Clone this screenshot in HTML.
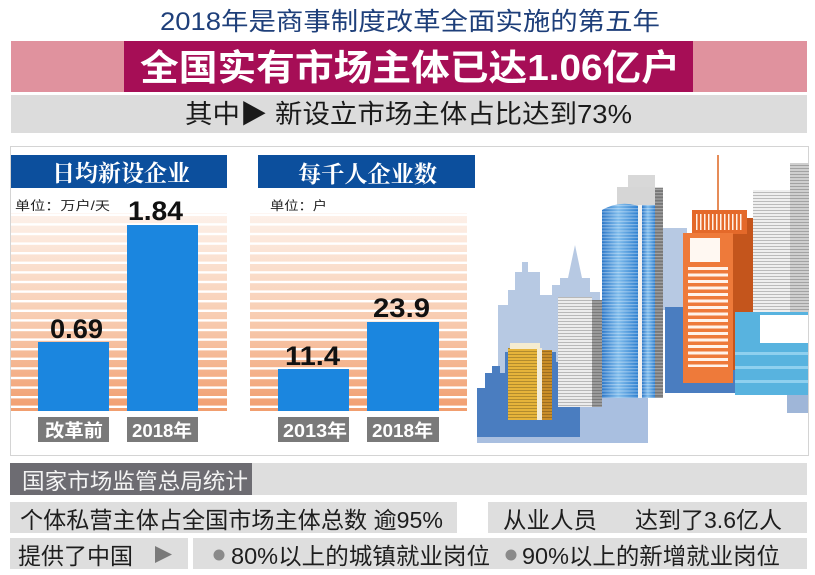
<!DOCTYPE html>
<html><head><meta charset="utf-8">
<style>
html,body{margin:0;padding:0;background:#fff;}
svg{display:block;}
text{font-family:"Liberation Sans","Noto Sans CJK SC",sans-serif;}
.cj{font-family:"Liberation Sans","Noto Sans CJK SC",sans-serif;}
.sf{font-family:"Liberation Serif","Noto Serif CJK SC",serif;font-weight:bold;}
</style></head><body>
<svg width="815" height="575" viewBox="0 0 815 575" xmlns="http://www.w3.org/2000/svg">
<defs>
<linearGradient id="og" x1="0" y1="0" x2="0" y2="1">
 <stop offset="0" stop-color="#fdf1ea"/>
 <stop offset="0.5" stop-color="#f8cfb5"/>
 <stop offset="1" stop-color="#f19e6f"/>
</linearGradient>
<pattern id="wl" patternUnits="userSpaceOnUse" x="0" y="216" width="10" height="9.6">
 <rect x="0" y="7.2" width="10" height="2.4" fill="#fff"/>
</pattern>
<linearGradient id="cyl" x1="0" y1="0" x2="1" y2="0">
 <stop offset="0" stop-color="#2d78c8"/>
 <stop offset="0.45" stop-color="#7fbcec"/>
 <stop offset="1" stop-color="#2f80d0"/>
</linearGradient>
<pattern id="hs" patternUnits="userSpaceOnUse" width="10" height="3.2">
 <rect x="0" y="0" width="10" height="1.2" fill="rgba(255,255,255,0.35)"/>
</pattern>
<pattern id="ds" patternUnits="userSpaceOnUse" width="10" height="3">
 <rect x="0" y="0" width="10" height="1" fill="rgba(0,0,0,0.22)"/>
</pattern>
<pattern id="ws" patternUnits="userSpaceOnUse" x="0" y="267" width="10" height="6.5">
 <rect x="0" y="0" width="10" height="3" fill="#fff3ea"/>
</pattern>
<pattern id="vs" patternUnits="userSpaceOnUse" width="4" height="10">
 <rect x="0" y="0" width="1.5" height="10" fill="#fff0e4"/>
</pattern>
</defs>

<!-- Title -->
<text x="160" y="30" font-size="25" fill="#1e3f7a" textLength="500" lengthAdjust="spacingAndGlyphs">2018年是商事制度改革全面实施的第五年</text>

<!-- Pink band -->
<rect x="11" y="41" width="796" height="51" fill="#e0929e"/>
<rect x="124" y="41" width="569" height="51" fill="#a60e56"/>
<text x="140" y="80" font-size="36" font-weight="bold" fill="#fff" textLength="540" lengthAdjust="spacingAndGlyphs">全国实有市场主体已达1.06亿户</text>

<!-- Gray band -->
<rect x="11" y="95" width="796" height="38" fill="#dcdcdc"/>
<text x="185" y="123" font-size="26" fill="#1a1a1a" textLength="447" lengthAdjust="spacingAndGlyphs">其中▶ 新设立市场主体占比达到73%</text>

<!-- Panel -->
<rect x="10.5" y="146.5" width="798" height="309" fill="#fff" stroke="#d4d4d4"/>

<!-- Left chart -->
<rect x="11" y="155" width="216" height="33" fill="#0c4f9d"/>
<text class="sf" x="52" y="181" font-size="23" fill="#fff" textLength="138" lengthAdjust="spacingAndGlyphs">日均新设企业</text>
<text x="15" y="210" font-size="12.5" fill="#222" textLength="95" lengthAdjust="spacingAndGlyphs">单位：万户/天</text>
<rect x="11" y="213" width="216" height="198" fill="url(#og)"/>
<rect x="11" y="213" width="216" height="198" fill="url(#wl)"/>
<rect x="38" y="342" width="71" height="69" fill="#1b86df"/>
<rect x="127" y="225" width="71" height="186" fill="#1b86df"/>
<text x="50" y="338" font-size="27" font-weight="bold" fill="#111" textLength="53" lengthAdjust="spacingAndGlyphs">0.69</text>
<text x="128" y="220" font-size="27" font-weight="bold" fill="#111" textLength="55" lengthAdjust="spacingAndGlyphs">1.84</text>
<rect x="38" y="417" width="71" height="25" fill="#7a7a7a"/>
<rect x="127" y="417" width="71" height="25" fill="#7a7a7a"/>
<text x="45" y="437" font-size="18" font-weight="bold" fill="#fff" textLength="58" lengthAdjust="spacingAndGlyphs">改革前</text>
<text x="132" y="437" font-size="18" font-weight="bold" fill="#fff" textLength="60" lengthAdjust="spacingAndGlyphs">2018年</text>

<!-- Right chart -->
<rect x="258" y="155" width="217" height="33" fill="#0c4f9d"/>
<text class="sf" x="298" y="182" font-size="23" fill="#fff" textLength="139" lengthAdjust="spacingAndGlyphs">每千人企业数</text>
<text x="270" y="210" font-size="12.5" fill="#222" textLength="57" lengthAdjust="spacingAndGlyphs">单位：户</text>
<rect x="250" y="213" width="217" height="198" fill="url(#og)"/>
<rect x="250" y="213" width="217" height="198" fill="url(#wl)"/>
<rect x="278" y="369" width="71" height="42" fill="#1b86df"/>
<rect x="367" y="322" width="72" height="89" fill="#1b86df"/>
<text x="285" y="365" font-size="27" font-weight="bold" fill="#111" textLength="55" lengthAdjust="spacingAndGlyphs">11.4</text>
<text x="373" y="317" font-size="27" font-weight="bold" fill="#111" textLength="57" lengthAdjust="spacingAndGlyphs">23.9</text>
<rect x="278" y="417" width="71" height="25" fill="#7a7a7a"/>
<rect x="367" y="417" width="72" height="25" fill="#7a7a7a"/>
<text x="283" y="437" font-size="18" font-weight="bold" fill="#fff" textLength="64" lengthAdjust="spacingAndGlyphs">2013年</text>
<text x="372" y="437" font-size="18" font-weight="bold" fill="#fff" textLength="61" lengthAdjust="spacingAndGlyphs">2018年</text>

<!-- City illustration -->
<g>
 <!-- light background skyline -->
 <path fill="#b7c9e3" d="M498 385 V305 H508 V290 H515 V272 H522 V262 H528 V272 H540 V295 H552 V285 H560 V278 H568 L575 245 L582 278 H590 V292 H600 V300 H606 V385 Z"/>
 <rect x="663" y="228" width="24" height="82" fill="#b7c9e3"/>
 <!-- dark blue base left -->
 <path fill="#4a7dc0" d="M477 437 V388 H485 V373 H492 V366 H500 V373 H505 V352 H556 V362 H580 V437 Z"/>
 <rect x="477" y="437" width="171" height="6" fill="#a9bfe0"/>
 <rect x="580" y="398" width="68" height="44" fill="#a9bfe0"/>
 <!-- dark blue behind orange -->
 <rect x="665" y="307" width="70" height="86" fill="#4a7dc0"/>
 <!-- yellow building -->
 <rect x="508" y="348" width="32" height="72" fill="#e6b43a"/>
 <rect x="508" y="348" width="32" height="72" fill="url(#ds)"/>
 <rect x="537" y="348" width="5" height="72" fill="#f3ecd8"/>
 <rect x="542" y="350" width="10" height="70" fill="#c98d28"/>
 <rect x="542" y="350" width="10" height="70" fill="url(#ds)"/>
 <rect x="510" y="343" width="30" height="6" fill="#f5ecd0"/>
 <!-- white striped building -->
 <rect x="558" y="297" width="34" height="110" fill="#ececec"/>
 <rect x="558" y="297" width="34" height="110" fill="url(#ds)"/>
 <rect x="592" y="300" width="10" height="107" fill="#9b9b9b"/>
 <rect x="592" y="300" width="10" height="107" fill="url(#ds)"/>
 <!-- gray tall tower -->
 <rect x="628" y="175" width="27" height="30" fill="#d8d8d8"/>
 <rect x="617" y="187" width="46" height="211" fill="#d6d6d6"/>
 <rect x="655" y="188" width="8" height="210" fill="#777"/>
 <rect x="655" y="188" width="8" height="210" fill="url(#hs)"/>
 <!-- blue cylinder -->
 <path fill="url(#cyl)" d="M602 398 V210 Q620 200 638 206 V398 Z"/>
 <path fill="url(#hs)" d="M602 398 V210 Q620 200 638 206 V398 Z"/>
 <rect x="638" y="205" width="4" height="193" fill="#f2f2f2"/>
 <rect x="642" y="205" width="13" height="193" fill="url(#cyl)"/>
 <rect x="642" y="205" width="13" height="193" fill="url(#hs)"/>
 <!-- orange building -->
 <line x1="718" y1="155" x2="718" y2="212" stroke="#e0702e" stroke-width="1.6"/>
 <rect x="733" y="218" width="24" height="152" fill="#c4551c"/>
 <rect x="692" y="210" width="55" height="24" fill="#e4692a"/>
 <rect x="694" y="214" width="50" height="16" fill="url(#vs)"/>
 <rect x="683" y="233" width="50" height="150" fill="#ee7a3a"/>
 <rect x="690" y="238" width="30" height="24" fill="#fff8f2"/>
 <rect x="688" y="267" width="40" height="100" fill="url(#ws)"/>
 <!-- far right white building -->
 <rect x="753" y="190" width="38" height="122" fill="#efefef"/>
 <rect x="753" y="190" width="38" height="122" fill="url(#ds)"/>
 <rect x="790" y="163" width="19" height="149" fill="#cfcfcf"/>
 <rect x="790" y="163" width="19" height="149" fill="url(#ds)"/>
 <!-- cyan building -->
 <rect x="735" y="312" width="73" height="83" fill="#58b3df"/>
 <rect x="735" y="352" width="73" height="3" fill="#8fd0ef"/>
 <rect x="735" y="366" width="73" height="3" fill="#8fd0ef"/>
 <rect x="735" y="380" width="73" height="3" fill="#8fd0ef"/>
 <rect x="760" y="315" width="48" height="28" fill="#ffffff"/>
 <rect x="787" y="395" width="21" height="18" fill="#9fb6d8"/>
</g>

<!-- Bottom section -->
<rect x="10" y="463" width="242" height="32" fill="#6d6c72"/>
<rect x="252" y="463" width="555" height="32" fill="#dedede"/>
<text x="22" y="489" font-size="22" fill="#f4f4f4" textLength="226" lengthAdjust="spacingAndGlyphs">国家市场监管总局统计</text>

<rect x="10" y="502" width="447" height="31" fill="#dedede"/>
<rect x="488" y="502" width="319" height="31" fill="#dedede"/>
<text x="20" y="528" font-size="23" fill="#1e1e1e" textLength="423" lengthAdjust="spacingAndGlyphs">个体私营主体占全国市场主体总数 逾95%</text>
<text x="503" y="528" font-size="23" fill="#1e1e1e" textLength="94" lengthAdjust="spacingAndGlyphs">从业人员</text>
<text x="635" y="528" font-size="23" fill="#1e1e1e" textLength="147" lengthAdjust="spacingAndGlyphs">达到了3.6亿人</text>

<rect x="10" y="538" width="178" height="31" fill="#dedede"/>
<rect x="193" y="538" width="614" height="31" fill="#dedede"/>
<text x="18" y="564" font-size="23" fill="#1e1e1e" textLength="115" lengthAdjust="spacingAndGlyphs">提供了中国</text>
<polygon points="155,546 172,554.5 155,563" fill="#7a7a7a"/>
<circle cx="219" cy="555" r="5.5" fill="#8a8a8a"/>
<text x="231" y="564" font-size="23" fill="#1e1e1e" textLength="259" lengthAdjust="spacingAndGlyphs">80%以上的城镇就业岗位</text>
<circle cx="511" cy="555" r="5.5" fill="#8a8a8a"/>
<text x="522" y="564" font-size="23" fill="#1e1e1e" textLength="258" lengthAdjust="spacingAndGlyphs">90%以上的新增就业岗位</text>
</svg>
</body></html>
